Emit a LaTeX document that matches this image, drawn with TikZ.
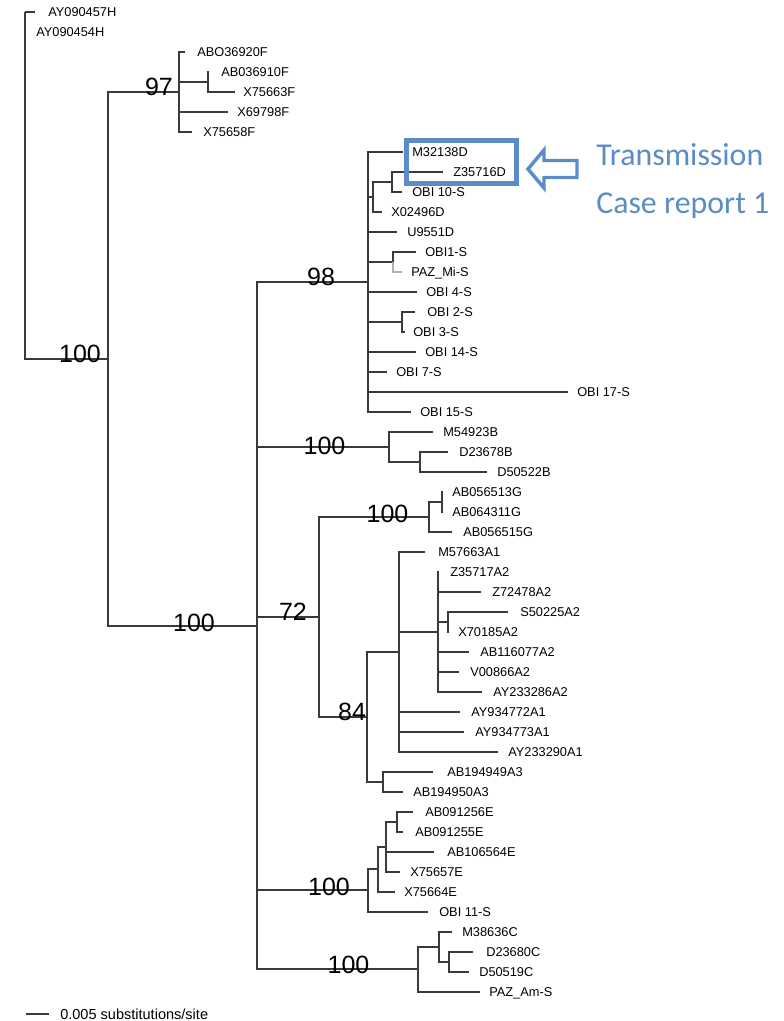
\documentclass[tikz,border=0pt]{standalone}
\usepackage{fontspec}
\setmainfont{Liberation Sans}
\newfontfamily\calibfont{Carlito}
\definecolor{hlblue}{HTML}{5B8CC7}
\definecolor{treegray}{HTML}{3A3A3A}

% leaf: tip coordinate and its label node
\newcommand\taxonleaf[5]{%
  \coordinate (#1) at (#2,#3);
  \node[taxon] (#1l) at (#4,#3) {#5};}

\begin{document}
\begin{tikzpicture}[x=0.75pt,y=-0.75pt,
  branch/.style={draw=treegray, line width=0.9pt},
  taxon/.style={anchor=west, inner sep=0pt, text depth=0pt, font=\fontsize{9.6}{11}\selectfont},
  support/.style={inner sep=0pt, text depth=0pt, font=\fontsize{18.75}{22}\selectfont},
  note/.style={anchor=base west, inner sep=0pt, text=hlblue, font=\calibfont\fontsize{23.9}{28}\selectfont}]
\useasboundingbox (0,0) rectangle (784,1021);

% internal nodes
\coordinate (nR)   at (25,12);
\coordinate (nA)   at (108,359);
\coordinate (nF)   at (179,92);
\coordinate (nF2)  at (208,82);
\coordinate (nB)   at (257,626);
\coordinate (nD)   at (368,282);
\coordinate (nD1)  at (373,197);
\coordinate (nD2)  at (392,182);
\coordinate (nD3)  at (393,262);
\coordinate (nD4)  at (402,322);
\coordinate (nBB)  at (389,447);
\coordinate (nBB2) at (420,462);
\coordinate (n72)  at (319,617);
\coordinate (nG)   at (429,517);
\coordinate (nG2)  at (442,502);
\coordinate (n84)  at (367,717);
\coordinate (nA1)  at (399,652);
\coordinate (nA2)  at (438,632);
\coordinate (nA2b) at (448,622);
\coordinate (nA3)  at (383,782);
\coordinate (nE)   at (368,890);
\coordinate (nE2)  at (378,869);
\coordinate (nE3)  at (386,847);
\coordinate (nE4)  at (397,822);
\coordinate (nC)   at (418,969);
\coordinate (nC2)  at (439,947);
\coordinate (nC3)  at (449,962);

% leaves
\taxonleaf{t1}{35}{12}{48}{AY090457H}
\taxonleaf{t2}{26}{32}{36}{AY090454H}
\taxonleaf{t3}{185}{52}{197}{ABO36920F}
\taxonleaf{t4}{209}{72}{221}{AB036910F}
\taxonleaf{t5}{235}{92}{243}{X75663F}
\taxonleaf{t6}{228}{112}{237}{X69798F}
\taxonleaf{t7}{192}{132}{203}{X75658F}
\taxonleaf{t8}{403}{152}{412}{M32138D}
\taxonleaf{t9}{443}{172}{453}{Z35716D}
\taxonleaf{t10}{402}{192}{412}{OBI 10-S}
\taxonleaf{t11}{382}{212}{391}{X02496D}
\taxonleaf{t12}{397}{232}{407}{U9551D}
\taxonleaf{t13}{416}{252}{425}{OBI1-S}
\taxonleaf{t14}{402}{272}{411}{PAZ\_Mi-S}
\taxonleaf{t15}{417}{292}{426}{OBI 4-S}
\taxonleaf{t16}{415}{312}{427}{OBI 2-S}
\taxonleaf{t17}{405}{332}{413}{OBI 3-S}
\taxonleaf{t18}{416}{352}{425}{OBI 14-S}
\taxonleaf{t19}{387}{372}{396}{OBI 7-S}
\taxonleaf{t20}{568}{392}{577}{OBI 17-S}
\taxonleaf{t21}{411}{412}{420}{OBI 15-S}
\taxonleaf{t22}{433}{432}{443}{M54923B}
\taxonleaf{t23}{448}{452}{459}{D23678B}
\taxonleaf{t24}{487}{472}{497}{D50522B}
\taxonleaf{t25}{443}{492}{452}{AB056513G}
\taxonleaf{t26}{443}{512}{452}{AB064311G}
\taxonleaf{t27}{452}{532}{463}{AB056515G}
\taxonleaf{t28}{425}{552}{438}{M57663A1}
\taxonleaf{t29}{439}{572}{450}{Z35717A2}
\taxonleaf{t30}{481}{592}{492}{Z72478A2}
\taxonleaf{t31}{508}{612}{520}{S50225A2}
\taxonleaf{t32}{449}{632}{458}{X70185A2}
\taxonleaf{t33}{469}{652}{480}{AB116077A2}
\taxonleaf{t34}{459}{672}{470}{V00866A2}
\taxonleaf{t35}{482}{692}{493}{AY233286A2}
\taxonleaf{t36}{460}{712}{471}{AY934772A1}
\taxonleaf{t37}{464}{732}{475}{AY934773A1}
\taxonleaf{t38}{498}{752}{508}{AY233290A1}
\taxonleaf{t39}{433}{772}{447}{AB194949A3}
\taxonleaf{t40}{403}{792}{413}{AB194950A3}
\taxonleaf{t41}{413}{812}{425}{AB091256E}
\taxonleaf{t42}{403}{832}{415}{AB091255E}
\taxonleaf{t43}{434}{852}{447}{AB106564E}
\taxonleaf{t44}{400}{872}{410}{X75657E}
\taxonleaf{t45}{395}{892}{404}{X75664E}
\taxonleaf{t46}{428}{912}{439}{OBI 11-S}
\taxonleaf{t47}{452}{932}{462}{M38636C}
\taxonleaf{t48}{473}{952}{486}{D23680C}
\taxonleaf{t49}{469}{972}{479}{D50519C}
\taxonleaf{t50}{480}{992}{489}{PAZ\_Am-S}

% branches
\foreach \p/\c in {nR/t1, nR/t2, nR/nA,
    nA/nF, nA/nB,
    nF/t3, nF/nF2, nF/t6, nF/t7, nF2/t4, nF2/t5,
    nB/nD, nB/nBB, nB/n72, nB/nE, nB/nC,
    nD/t8, nD/nD1, nD/t12, nD/nD3, nD/t15, nD/nD4, nD/t18, nD/t19, nD/t20, nD/t21,
    nD1/nD2, nD1/t11, nD2/t9, nD2/t10, nD3/t13, nD4/t16, nD4/t17,
    nBB/t22, nBB/nBB2, nBB2/t23, nBB2/t24,
    n72/nG, n72/n84, nG/nG2, nG/t27, nG2/t25, nG2/t26,
    n84/nA1, n84/nA3,
    nA1/t28, nA1/nA2, nA1/t36, nA1/t37, nA1/t38,
    nA2/t29, nA2/t30, nA2/nA2b, nA2/t33, nA2/t34, nA2/t35,
    nA2b/t31, nA2b/t32, nA3/t39, nA3/t40,
    nE/nE2, nE/t46, nE2/nE3, nE2/t45, nE3/nE4, nE3/t43, nE3/t44, nE4/t41, nE4/t42,
    nC/nC2, nC/t50, nC2/t47, nC2/nC3, nC3/t48, nC3/t49}
  \draw[branch] (\p) |- (\c);
\draw[branch, draw=black!30] (nD3) |- (t14);

% bootstrap support values
\node[support] (bs1)  at (80,353.5)  {100};
\node[support] (bs2)  at (159,87)    {97};
\node[support] (bs3)  at (321,277)   {98};
\node[support] (bs4)  at (324.5,445.5) {100};
\node[support] (bs5)  at (387.5,514) {100};
\node[support] (bs6)  at (293,611.5) {72};
\node[support] (bs7)  at (352,711.5) {84};
\node[support] (bs8)  at (194,622.5) {100};
\node[support] (bs9)  at (329,886.5) {100};
\node[support] (bs10) at (348.5,965) {100};

% scale bar
\coordinate (sb1) at (26,1014);
\coordinate (sb2) at (49,1014);
\draw[branch] (sb1) -- (sb2);
\node[taxon, font=\fontsize{10.9}{13}\selectfont] (sbl) at (60,1014) {0.005 substitutions/site};

% highlighted pair and annotation
\node[draw=hlblue, line width=3.75pt, minimum width=82.5pt, minimum height=32.25pt, inner sep=0pt] (hl) at (461,161.5) {};
\draw[hlblue, line width=2.6pt, line join=miter]
  (528,169) -- (544,150) -- (544,160.5) -- (577,160.5) -- (577,177.5)
  -- (544,177.5) -- (544,188) -- cycle;
\node[note] (tx1) at (596,165) {Transmission};
\node[note] (tx2) at (596,213) {Case report 1};
\end{tikzpicture}
\end{document}
